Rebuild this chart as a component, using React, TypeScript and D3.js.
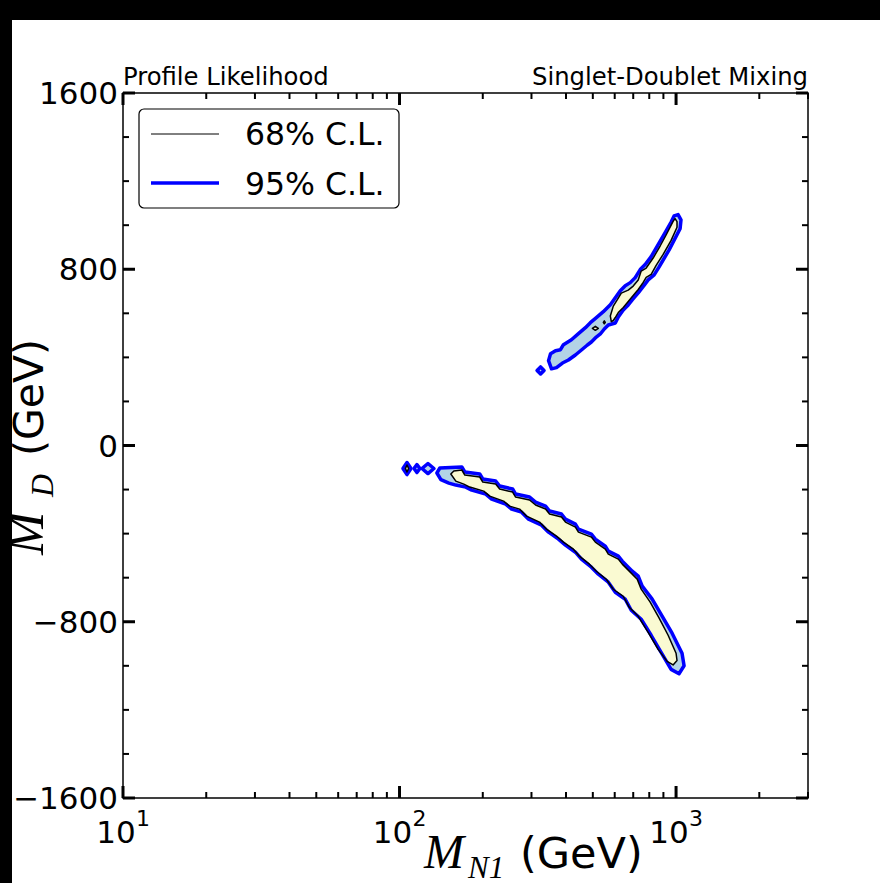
import React from "react";
import * as d3 from "d3";

const W = 880;
const H = 883;
const plot = { left: 123, right: 808, top: 93, bottom: 798 };

const xDomain: [number, number] = [10, 3000];
const yDomain: [number, number] = [-1600, 1600];
const xMajorTicks = [10, 100, 1000];
const xTickExponents = ["1", "2", "3"];
const xMinorTicks = [20, 30, 40, 50, 60, 70, 80, 90, 200, 300, 400, 500, 600, 700, 800, 900, 2000, 3000];
const yMajorTicks = [-1600, -800, 0, 800, 1600];
const yMinorTicks = [-1400, -1200, -1000, -600, -400, -200, 200, 400, 600, 1000, 1200, 1400];

const legendLabels = ["68% C.L.", "95% C.L."];

// 95% C.L. contour regions (M_N1 [GeV], M_D [GeV])
const lowerBand95: [number, number][] = [
  [136.5, -124.8], [139.9, -102.1], [168.0, -97.5], [172.2, -120.3], [195.0, -129.4], [200.0, -152.1],
  [222.7, -161.2], [230.2, -183.9], [256.4, -197.5], [262.9, -220.3], [295.3, -233.9], [310.4, -256.6],
  [337.3, -274.8], [348.7, -297.5], [385.1, -311.2], [398.1, -333.9], [432.5, -356.6], [443.6, -379.4],
  [494.0, -402.1], [510.6, -424.8], [554.8, -456.6], [568.9, -479.4], [618.1, -502.1], [639.0, -524.8],
  [694.2, -570.3], [729.7, -593.0], [754.3, -638.5], [819.6, -697.5], [890.5, -774.8], [967.5, -852.1],
  [1051, -943.0], [1069, -1000],
  [1025, -1036], [959.6, -1016.1], [883.1, -938.8], [812.8, -861.5], [748.0, -788.8], [688.5, -747.9],
  [655.1, -697.9], [603.0, -666.1], [568.9, -620.6], [523.5, -584.3], [494.0, -552.5], [454.8, -516.1],
  [432.5, -484.3], [398.1, -452.5], [375.6, -425.2], [345.8, -393.4], [326.3, -361.5], [292.9, -334.3],
  [276.3, -302.5], [254.3, -288.8], [242.0, -266.1], [215.4, -243.4], [205.0, -220.6], [182.5, -202.5],
  [173.6, -188.8], [159.8, -179.7], [150.8, -170.6], [141.1, -155.0],
];

const upperBand95: [number, number][] = [
  [345.8, 385], [351.6, 416.5], [366.4, 430.2], [381.9, 434.7], [391.5, 457.5], [418.4, 480.2],
  [443.6, 507.5], [470.2, 534.7], [489.9, 557.5], [514.9, 580.2], [545.7, 607.5], [578.4, 639.3],
  [603.0, 671.1], [628.5, 702.9], [655.1, 725.6], [682.8, 739.3], [711.7, 762.0], [741.9, 798.4],
  [773.3, 821.1], [812.8, 857.5], [861.4, 912.0], [913.0, 966.5], [959.6, 1014.5], [983.5, 1042],
  [1017, 1048], [1042, 1024], [1034, 984],
  [943.9, 888], [868.6, 810.7], [833.3, 774.4], [792.8, 751.6], [773.3, 733.5], [729.7, 692.5],
  [694.2, 660.7], [671.6, 638.0], [644.3, 615.3], [618.1, 583.5], [603.0, 556.2], [568.9, 547.1],
  [550.2, 528.9], [532.3, 506.2], [510.6, 488.0], [494.0, 469.8], [478.0, 456.2], [454.8, 433.5],
  [432.5, 410.7], [408.1, 388.0], [388.3, 374.4], [369.5, 353.6], [354.5, 348],
];

const islands95: [number, number][][] = [
  [[102.9, -104.5], [106.4, -77.3], [110.0, -104.5], [106.4, -131.8]],
  [[112.8, -104.5], [115.6, -86.4], [118.5, -104.5], [115.6, -122.7]],
  [[120.5, -104.5], [126.7, -81.8], [133.2, -104.5], [126.7, -127.3]],
  [[314.3, 340.9], [323.6, 356.8], [333.1, 340.9], [323.6, 325.0]],
];

// 68% C.L. contour regions
const lowerBand68: [number, number][] = [
  [153.3, -129.4], [157.2, -115.7], [168.0, -111.2], [172.2, -133.9], [195.0, -143.0], [200.0, -165.7],
  [222.7, -174.8], [230.2, -197.5], [256.4, -211.2], [262.9, -233.9], [295.3, -247.5], [310.4, -270.3],
  [337.3, -288.5], [348.7, -311.2], [385.1, -324.8], [398.1, -347.5], [432.5, -370.3], [443.6, -393.0],
  [494.0, -415.7], [510.6, -438.5], [554.8, -470.3], [568.9, -493.0], [618.1, -515.7], [639.0, -538.5],
  [694.2, -583.9], [723.6, -606.6], [748.0, -652.1], [806.1, -711.2], [868.6, -783.9], [936.0, -861.2],
  [1000, -943.0], [1008, -976],
  [975.6, -996], [928.3, -979.7], [861.4, -925.2], [792.8, -847.9], [729.7, -775.2], [677.2, -734.3],
  [644.3, -684.3], [593.0, -652.5], [559.4, -607.0], [514.9, -570.6], [486.0, -538.8], [447.3, -502.5],
  [425.5, -470.6], [391.5, -438.8], [369.5, -411.5], [340.1, -379.7], [320.9, -347.9], [288.0, -320.6],
  [271.8, -288.8], [250.1, -275.2], [237.9, -252.5], [211.9, -229.7], [201.6, -207.0], [179.5, -188.8],
  [170.8, -175.2], [159.8, -161.5],
];

const upperBand68: [number, number][] = [
  [578.4, 588], [593.0, 632.7], [618.1, 669.1], [633.8, 691.8], [671.6, 705.5], [699.9, 723.6],
  [729.7, 750.9], [748.0, 791.8], [779.8, 805.5], [826.4, 850.9], [875.8, 905.5], [920.5, 955.5],
  [975.6, 1017], [991.8, 1030], [1008, 1016], [1008, 990.9],
  [959.6, 930.9], [898.0, 867.3], [847.2, 817.3], [812.8, 776.4], [779.8, 762.7], [760.6, 740.0],
  [729.7, 708.2], [699.9, 680.9], [671.6, 653.6], [644.3, 626.4], [618.1, 603.6], [603.0, 580.9],
  [593.0, 567.3], [583.2, 562],
];

const islands68: [number, number][][] = [
  [[105.1, -104.5], [106.4, -88.6], [107.8, -104.5], [106.4, -120.5]],
  [[498.2, 531.8], [510.6, 540.9], [523.5, 531.8], [510.6, 522.7]],
  [[545.7, 559.1], [550.2, 565.9], [554.8, 559.1], [550.2, 552.3]],
];

const FILL95 = "#b3d3e6";
const FILL68 = "#fafad2";
const SANS = "DejaVu Sans, sans-serif";
const SERIF = "Liberation Serif, DejaVu Serif, serif";

export default function App() {
  const x = d3.scaleLog().domain(xDomain).range([plot.left, plot.right]);
  const y = d3.scaleLinear().domain(yDomain).range([plot.bottom, plot.top]);
  const line = d3
    .line<[number, number]>()
    .x((d) => x(d[0]))
    .y((d) => y(d[1]))
    .curve(d3.curveLinearClosed);

  const regions95 = [lowerBand95, upperBand95, ...islands95];
  const regions68 = [lowerBand68, upperBand68, ...islands68];

  const fmtY = (v: number) => (v < 0 ? "\u2212" + Math.abs(v) : String(v));

  return (
    <div style={{ position: "fixed", left: 0, top: 0, width: W, height: H }}>
      <svg width={W} height={H} style={{ display: "block" }}>
        <rect x={0} y={0} width={W} height={H} fill="#fff" />

        {/* contours */}
        {regions95.map((r, i) => (
          <path key={"f95" + i} d={line(r) || ""} fill={FILL95} stroke="none" />
        ))}
        {regions68.map((r, i) => (
          <path key={"f68" + i} d={line(r) || ""} fill={FILL68} stroke="none" />
        ))}
        {regions95.map((r, i) => (
          <path key={"s95" + i} d={line(r) || ""} fill="none" stroke="#0000ff" strokeWidth={3.5} strokeLinejoin="round" />
        ))}
        {regions68.map((r, i) => (
          <path key={"s68" + i} d={line(r) || ""} fill="none" stroke="#000" strokeWidth={1.5} strokeLinejoin="round" />
        ))}

        {/* frame */}
        <rect
          x={plot.left}
          y={plot.top}
          width={plot.right - plot.left}
          height={plot.bottom - plot.top}
          fill="none"
          stroke="#000"
          strokeWidth={1.5}
        />

        {/* y ticks */}
        {yMajorTicks.map((v) => (
          <g key={"ym" + v}>
            <line x1={plot.left} x2={plot.left + 12} y1={y(v)} y2={y(v)} stroke="#000" strokeWidth={3} />
            <line x1={plot.right} x2={plot.right - 12} y1={y(v)} y2={y(v)} stroke="#000" strokeWidth={3} />
            <text x={plot.left - 5} y={y(v)} dy="0.36em" textAnchor="end" fontFamily={SANS} fontSize={31}>
              {fmtY(v)}
            </text>
          </g>
        ))}
        {yMinorTicks.map((v) => (
          <g key={"yn" + v}>
            <line x1={plot.left} x2={plot.left + 6} y1={y(v)} y2={y(v)} stroke="#000" strokeWidth={2} />
            <line x1={plot.right} x2={plot.right - 6} y1={y(v)} y2={y(v)} stroke="#000" strokeWidth={2} />
          </g>
        ))}

        {/* x ticks */}
        {xMajorTicks.map((v, i) => (
          <g key={"xm" + v}>
            <line x1={x(v)} x2={x(v)} y1={plot.bottom} y2={plot.bottom - 12} stroke="#000" strokeWidth={3} />
            <line x1={x(v)} x2={x(v)} y1={plot.top} y2={plot.top + 12} stroke="#000" strokeWidth={3} />
            <text x={x(v) - 7} y={843} textAnchor="middle" fontFamily={SANS} fontSize={31}>
              10
            </text>
            <text x={x(v) + 20} y={826} textAnchor="middle" fontFamily={SANS} fontSize={22}>
              {xTickExponents[i]}
            </text>
          </g>
        ))}
        {xMinorTicks.map((v) => (
          <g key={"xn" + v}>
            <line x1={x(v)} x2={x(v)} y1={plot.bottom} y2={plot.bottom - 6} stroke="#000" strokeWidth={2} />
            <line x1={x(v)} x2={x(v)} y1={plot.top} y2={plot.top + 6} stroke="#000" strokeWidth={2} />
          </g>
        ))}

        {/* titles */}
        <text x={plot.left} y={85} fontFamily={SANS} fontSize={24.3}>
          Profile Likelihood
        </text>
        <text x={plot.right} y={85} textAnchor="end" fontFamily={SANS} fontSize={24.3}>
          Singlet-Doublet Mixing
        </text>

        {/* axis labels */}
        <text x={424} y={868} fontFamily={SERIF} fontStyle="italic" fontSize={48}>
          M
        </text>
        <text x={468} y={878} fontFamily={SERIF} fontStyle="italic" fontSize={31}>
          N1
        </text>
        <text x={520} y={868} fontFamily={SANS} fontSize={43}>
          (GeV)
        </text>

        <g transform="translate(43,555) rotate(-90)">
          <text x={0} y={0} fontFamily={SERIF} fontStyle="italic" fontSize={52}>
            M
          </text>
          <text x={58} y={10} fontFamily={SERIF} fontStyle="italic" fontSize={32}>
            D
          </text>
          <text x={99} y={0} fontFamily={SANS} fontSize={41}>
            (GeV)
          </text>
        </g>

        {/* legend */}
        <rect x={139} y={109} width={260} height={99} rx={5} fill="#fff" stroke="#000" strokeWidth={1.2} />
        <line x1={151} x2={219} y1={134} y2={134} stroke="#000" strokeWidth={1} />
        <line x1={151} x2={219} y1={183} y2={183} stroke="#0000ff" strokeWidth={3.5} />
        <text x={245} y={145} fontFamily={SANS} fontSize={31.5}>
          {legendLabels[0]}
        </text>
        <text x={245} y={195} fontFamily={SANS} fontSize={31.5}>
          {legendLabels[1]}
        </text>

        {/* black page border */}
        <rect x={0} y={0} width={W} height={20} fill="#000" />
        <rect x={0} y={0} width={12} height={H} fill="#000" />
      </svg>
    </div>
  );
}
